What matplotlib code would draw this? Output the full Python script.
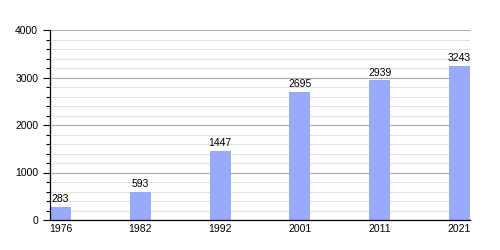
import numpy as np
import matplotlib.pyplot as plt
from matplotlib.ticker import MultipleLocator

plt.rcParams['font.family'] = ['Liberation Sans', 'DejaVu Sans']

years = ['1976', '1982', '1992', '2001', '2011', '2021']
population = [283, 593, 1447, 2695, 2939, 3243]

fig = plt.figure(figsize=(5, 2.5), dpi=100)
ax = fig.add_axes([0.10, 0.12, 0.84, 0.76])

x = np.arange(len(years))
w = 0.2625
ax.bar(x, population, width=w, align='edge', color='#99aafa', zorder=3)
for xi, v in zip(x, population):
    ax.text(xi + w / 2, v + 60, str(v), ha='center', va='bottom', fontsize=7.5, zorder=4)

ax.set_xlim(0, len(years) - 1 + w)
ax.set_ylim(0, 4000)
ax.set_xticks(x + w / 2)
ax.set_xticklabels(years, fontsize=7.5)
ax.yaxis.set_major_locator(MultipleLocator(1000))
ax.yaxis.set_minor_locator(MultipleLocator(200))
ax.tick_params(axis='y', labelsize=7.5, length=5, width=0.8, color='black')
ax.tick_params(axis='y', which='minor', length=3, width=0.8)
ax.tick_params(axis='x', length=0, pad=3)

ax.grid(axis='y', which='major', color='#aaaaaa', linewidth=0.8, zorder=0)
ax.grid(axis='y', which='minor', color='#e2e2e2', linewidth=0.8, zorder=0)
for s in ['top', 'right']:
    ax.spines[s].set_visible(False)
ax.spines['left'].set_linewidth(0.9)
ax.spines['bottom'].set_linewidth(0.9)
ax.spines['left'].set_zorder(5)
ax.spines['bottom'].set_zorder(5)

fig.savefig('out.png', dpi=100)
